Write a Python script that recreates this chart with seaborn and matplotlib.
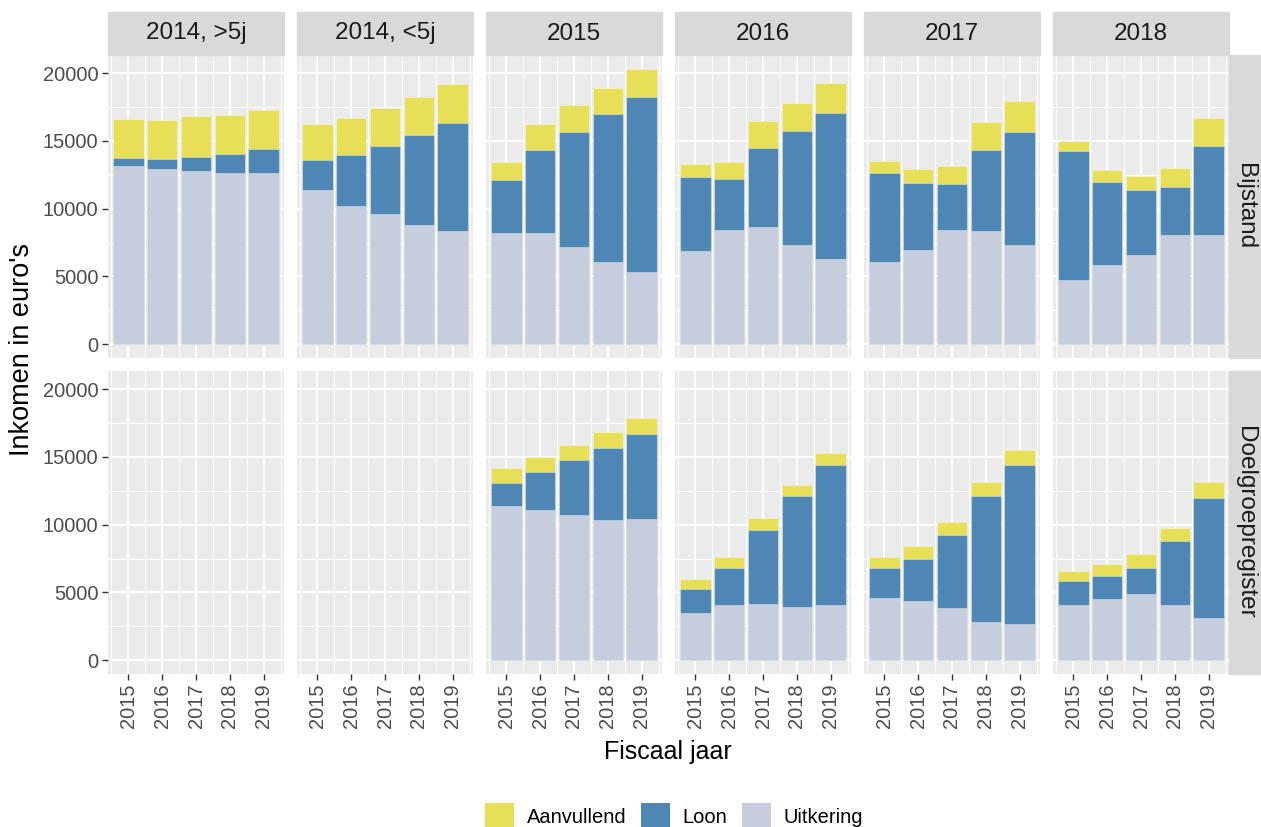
import matplotlib

matplotlib.use("Agg")
import matplotlib.pyplot as plt
import pandas as pd
import seaborn as sns
from matplotlib.patches import Patch, Rectangle
from matplotlib.ticker import FixedLocator, MultipleLocator

plt.rcParams["font.family"] = ["Liberation Sans", "DejaVu Sans"]

OUT_PATH = "out.png"

YEARS = ["2015", "2016", "2017", "2018", "2019"]
COHORTS = ["2014, >5j", "2014, <5j", "2015", "2016", "2017", "2018"]
ROWS = ["Bijstand", "Doelgroepregister"]
COMPONENTS = ["Aanvullend", "Loon", "Uitkering"]

# Bijstand (per cohort, per fiscaal jaar)
bij_uitkering = [
    [13150, 12910, 12810, 12660, 12640],
    [11340, 10210, 9570, 8760, 8340],
    [8200, 8170, 7140, 6090, 5300],
    [6850, 8440, 8660, 7310, 6280],
    [6060, 6970, 8390, 8320, 7310],
    [4760, 5820, 6550, 8030, 8030],
]
bij_loon = [
    [590, 760, 1030, 1400, 1790],
    [2280, 3750, 5080, 6680, 7980],
    [3950, 6190, 8520, 10890, 12930],
    [5450, 3730, 5790, 8420, 10800],
    [6550, 4930, 3460, 6010, 8350],
    [9500, 6130, 4790, 3580, 6620],
]
bij_aanvullend = [
    [2850, 2870, 2990, 2870, 2850],
    [2630, 2730, 2770, 2790, 2870],
    [1270, 1860, 1960, 1940, 2090],
    [1030, 1280, 1990, 2040, 2180],
    [890, 1030, 1330, 2040, 2250],
    [710, 880, 1050, 1420, 2040],
]

# Doelgroepregister (geen data voor de 2014-cohorten)
dgr_uitkering = [
    [],
    [],
    [11370, 11070, 10700, 10360, 10430],
    [3470, 4060, 4180, 3960, 4060],
    [4600, 4380, 3840, 2830, 2680],
    [4080, 4480, 4900, 4110, 3120],
]
dgr_loon = [
    [],
    [],
    [1720, 2800, 4090, 5310, 6250],
    [1790, 2780, 5410, 8140, 10360],
    [2210, 3100, 5410, 9300, 11740],
    [1730, 1740, 1910, 4650, 8880],
]
dgr_aanvullend = [
    [],
    [],
    [1100, 1090, 1080, 1180, 1200],
    [720, 760, 870, 860, 860],
    [840, 980, 980, 1010, 1080],
    [780, 890, 1060, 1030, 1140],
]

COLORS = {"Aanvullend": "#E6DF57", "Loon": "#4E87B5", "Uitkering": "#C6CDDC"}

W, H = 1261, 827
PANEL_LEFT = [108, 297, 486, 675, 864, 1053]
PANEL_W = 176
ROW_TOP = [55, 371]
PANEL_H = 303
STRIP_H = 43


def fx(px):
    return px / W


def fy(py):
    return 1 - py / H


def draw_panel(ax, uit, loon, aanv, show_x, show_y):
    ax.set_facecolor("#EBEBEB")
    for sp in ax.spines.values():
        sp.set_visible(False)
    ax.set_axisbelow(True)

    if uit:
        df = pd.DataFrame({"jaar": YEARS, "Uitkering": uit, "Loon": loon, "Aanvullend": aanv})
        df["top_loon"] = df["Uitkering"] + df["Loon"]
        df["totaal"] = df["top_loon"] + df["Aanvullend"]
        layers = [("totaal", "Aanvullend"), ("top_loon", "Loon"), ("Uitkering", "Uitkering")]
        for col, comp in layers:
            sns.barplot(data=df, x="jaar", y=col, color=COLORS[comp], saturation=1,
                        width=0.9, edgecolor=(1, 1, 1, 0.35), linewidth=0.8,
                        errorbar=None, ax=ax)

    ax.set_xlim(-0.6, 4.6)
    ax.set_ylim(-1016, 21335)
    ax.xaxis.set_major_locator(FixedLocator(range(len(YEARS))))
    ax.set_xticklabels(YEARS, rotation=90)
    ax.xaxis.set_minor_locator(FixedLocator([i - 0.5 for i in range(len(YEARS) + 1)]))
    ax.yaxis.set_major_locator(MultipleLocator(5000))
    ax.yaxis.set_minor_locator(MultipleLocator(2500))
    ax.grid(which="major", color="white", linewidth=1.4)
    ax.grid(which="minor", color="white", linewidth=0.7)
    ax.set_xlabel("")
    ax.set_ylabel("")

    ax.tick_params(which="major", length=4, width=1, color="#333333",
                   labelcolor="#4D4D4D", labelsize=14.5, pad=3)
    ax.tick_params(which="minor", length=0)
    ax.tick_params(axis="x", bottom=show_x, labelbottom=show_x)
    ax.tick_params(axis="y", left=show_y, labelleft=show_y)


def main() -> None:
    fig = plt.figure(figsize=(W / 100, H / 100), dpi=100)

    data = [
        (bij_uitkering, bij_loon, bij_aanvullend),
        (dgr_uitkering, dgr_loon, dgr_aanvullend),
    ]

    for r, (uit_rows, loon_rows, aanv_rows) in enumerate(data):
        top = ROW_TOP[r]
        for c, cohort in enumerate(COHORTS):
            left = PANEL_LEFT[c]
            ax = fig.add_axes([fx(left), fy(top + PANEL_H), fx(PANEL_W), PANEL_H / H])
            draw_panel(ax, uit_rows[c], loon_rows[c], aanv_rows[c],
                       show_x=(r == 1), show_y=(c == 0))

            if r == 0:
                fig.patches.append(Rectangle((fx(left), fy(top)), fx(PANEL_W), STRIP_H / H,
                                             transform=fig.transFigure, color="#D9D9D9",
                                             zorder=0))
                fig.text(fx(left + PANEL_W / 2), fy(top - STRIP_H / 2), cohort,
                         ha="center", va="center", fontsize=17.5, color="#1A1A1A")

        sx = PANEL_LEFT[-1] + PANEL_W
        fig.patches.append(Rectangle((fx(sx), fy(top + PANEL_H)), fx(STRIP_H), PANEL_H / H,
                                     transform=fig.transFigure, color="#D9D9D9", zorder=0))
        fig.text(fx(1245), fy(top + PANEL_H / 2), ROWS[r], rotation=-90,
                 ha="center", va="center", fontsize=17.5, color="#1A1A1A")

    fig.text(fx(668), fy(752), "Fiscaal jaar", ha="center", va="center", fontsize=18)
    fig.text(fx(22), fy(350), "Inkomen in euro's", ha="center", va="center",
             rotation=90, fontsize=19.5)

    handles = [Patch(facecolor=COLORS[c], edgecolor="none", label=c) for c in COMPONENTS]
    fig.legend(handles=handles, loc="upper center", bbox_to_anchor=(fx(674), fy(803)),
               ncol=3, frameon=False, fontsize=14.5, handlelength=1.45, handleheight=1.7,
               handletextpad=0.65, columnspacing=0.7, borderpad=0, borderaxespad=0)

    fig.savefig(OUT_PATH, dpi=100)
    plt.close(fig)


if __name__ == "__main__":
    main()
